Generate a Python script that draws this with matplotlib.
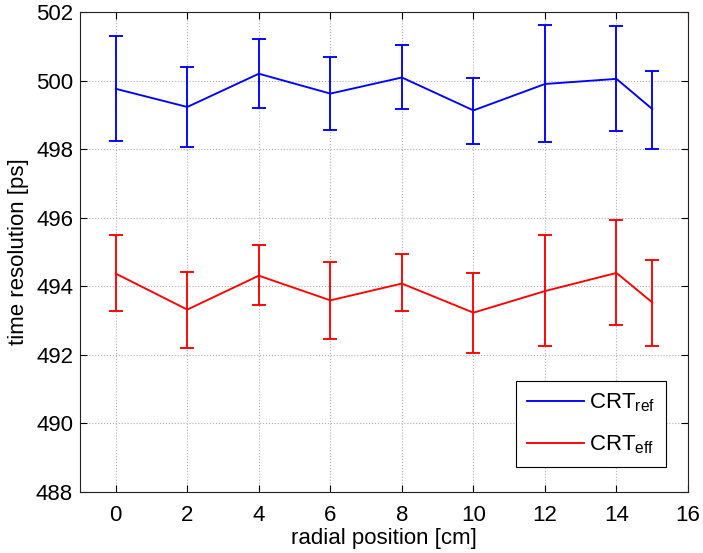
import matplotlib
matplotlib.use('Agg')
import matplotlib.pyplot as plt
from matplotlib.lines import Line2D
import numpy as np

plt.rcParams['font.family'] = ['Liberation Sans', 'DejaVu Sans']
plt.rcParams['mathtext.fontset'] = 'custom'
plt.rcParams['mathtext.rm'] = 'Liberation Sans'
plt.rcParams['mathtext.it'] = 'Liberation Sans'

# radial positions [cm]
pos = [0, 2, 4, 6, 8, 10, 12, 14, 15]

# CRT_ref: mean, lower bound, upper bound [ps]
ref_mean = [499.76, 499.23, 500.20, 499.62, 500.09, 499.13, 499.90, 500.05, 499.17]
ref_lo = [498.24, 498.07, 499.20, 498.55, 499.17, 498.16, 498.21, 498.54, 498.00]
ref_hi = [501.31, 500.40, 501.21, 500.69, 501.04, 500.07, 501.62, 501.59, 500.28]

# CRT_eff
eff_mean = [494.37, 493.32, 494.31, 493.59, 494.08, 493.23, 493.86, 494.39, 493.53]
eff_lo = [493.28, 492.20, 493.45, 492.46, 493.27, 492.06, 492.27, 492.87, 492.27]
eff_hi = [495.50, 494.43, 495.21, 494.72, 494.93, 494.40, 495.49, 495.94, 494.76]

fig = plt.figure(figsize=(7.03, 5.53), dpi=100)
ax = fig.add_axes([0.1138, 0.1103, 0.8649, 0.8680])

def errs(m, lo, hi):
    m = np.array(m)
    return [m - np.array(lo), np.array(hi) - m]

ax.errorbar(pos, ref_mean, yerr=errs(ref_mean, ref_lo, ref_hi), color='#0000ff',
            lw=1.35, elinewidth=1.35, capsize=5, capthick=1.35)
ax.errorbar(pos, eff_mean, yerr=errs(eff_mean, eff_lo, eff_hi), color='#ff0000',
            lw=1.35, elinewidth=1.35, capsize=5, capthick=1.35)

ax.set_xlim(-1, 16)
ax.set_ylim(488, 502)
ax.set_xticks(np.arange(0, 17, 2))
ax.set_yticks(np.arange(488, 503, 2))
ax.grid(True, color='#b0b0b0', linestyle=':', linewidth=0.8)
ax.tick_params(direction='in', length=5, top=True, right=True, labelsize=16)
ax.tick_params(axis='x', pad=9)
ax.tick_params(axis='y', pad=5)
for s in ax.spines.values():
    s.set_linewidth(0.8)
    s.set_color('#222222')

ax.set_xlabel('radial position [cm]', fontsize=16, labelpad=2)
ax.set_ylabel('time resolution [ps]', fontsize=16, labelpad=5)

handles = [Line2D([], [], color='#0000ff', lw=1.35),
           Line2D([], [], color='#ff0000', lw=1.35)]
labels = [r'CRT$_{\mathrm{ref}}$', r'CRT$_{\mathrm{eff}}$']
leg = ax.legend(handles, labels, loc='lower right', bbox_to_anchor=(0.964, 0.052),
                borderaxespad=0, fontsize=16, fancybox=False, edgecolor='black',
                framealpha=1, handlelength=2.6, handletextpad=0.2,
                labelspacing=0.85, borderpad=0.5)
leg.get_frame().set_linewidth(0.8)

fig.savefig('out.png', dpi=100)
